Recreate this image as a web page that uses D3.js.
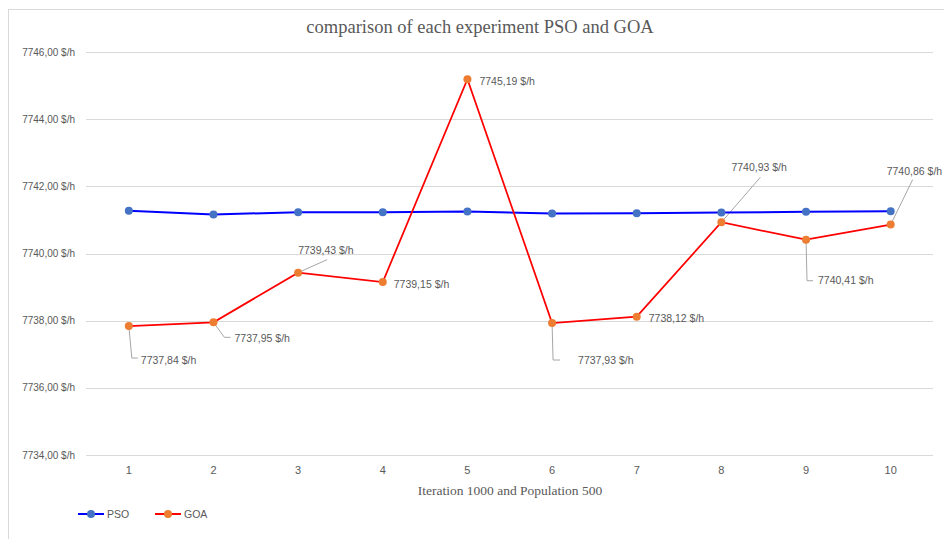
<!DOCTYPE html>
<html>
<head>
<meta charset="utf-8">
<script src="https://cdn.jsdelivr.net/npm/d3@7"></script>
<style>
  body { margin: 0; background: #fff; }
  text { font-family: "Liberation Sans", Arial, sans-serif; }
</style>
</head>
<body>
<div id="chart"></div>
<script>
const experiments = [1, 2, 3, 4, 5, 6, 7, 8, 9, 10];
const psoValues = [7741.27, 7741.16, 7741.23, 7741.23, 7741.25, 7741.19, 7741.20, 7741.22, 7741.24, 7741.26];
const goaValues = [7737.84, 7737.95, 7739.43, 7739.15, 7745.19, 7737.93, 7738.12, 7740.93, 7740.41, 7740.86];
const yTicks = [7734, 7736, 7738, 7740, 7742, 7744, 7746];

// where each GOA label sits relative to its point, with optional leader line
const labelLayout = [
  { dx: 12, dy: 34, leader: [[3, 32], [9, 32]] },
  { dx: 21, dy: 16, leader: [[11, 15], [17, 15]] },
  { dx: 0, dy: -22, leader: [[29, -13]] },
  { dx: 11, dy: 2 },
  { dx: 12, dy: 2 },
  { dx: 26, dy: 37, leader: [[1, 37], [8, 37]] },
  { dx: 12, dy: 1.5 },
  { dx: 10, dy: -55, leader: [[39, -45]] },
  { dx: 12, dy: 41, leader: [[1, 41], [7, 41]] },
  { dx: -4, dy: -53, leader: [[22, -45]] }
];

const width = 944, height = 539;
const fmt = v => d3.format(".2f")(v).replace(".", ",") + " $/h";

const svg = d3.select('#chart')
  .append('svg')
  .attr('width', width)
  .attr('height', height);

svg.append('rect')
  .attr('x', 8.5).attr('y', 9.5)
  .attr('width', 1000).attr('height', 600)
  .attr('fill', 'white')
  .attr('stroke', '#d9d9d9');

const x = d3.scalePoint()
  .domain(experiments)
  .range([86.5, 933])
  .padding(0.5);

const y = d3.scaleLinear()
  .domain([7734, 7746])
  .range([455, 52]);

// gridlines
svg.append('g')
  .selectAll('line')
  .data(yTicks)
  .join('line')
  .attr('x1', 86).attr('x2', 933)
  .attr('y1', d => Math.round(y(d)) + 0.5)
  .attr('y2', d => Math.round(y(d)) + 0.5)
  .attr('stroke', '#d9d9d9')
  .attr('stroke-width', 1);

// y labels
svg.append('g')
  .selectAll('text')
  .data(yTicks)
  .join('text')
  .text(d => fmt(d))
  .attr('x', 75)
  .attr('y', d => y(d))
  .attr('dy', '0.35em')
  .attr('text-anchor', 'end')
  .attr('font-size', '10px')
  .attr('fill', '#595959');

// x axis labels
svg.append('g')
  .selectAll('text')
  .data(experiments)
  .join('text')
  .text(d => d)
  .attr('x', d => x(d))
  .attr('y', 474)
  .attr('text-anchor', 'middle')
  .attr('font-size', '11px')
  .attr('fill', '#595959');

svg.append('text')
  .text('comparison of each experiment PSO and GOA')
  .attr('x', 480)
  .attr('y', 33)
  .attr('text-anchor', 'middle')
  .style('font-family', '"Liberation Serif", "Times New Roman", serif')
  .attr('font-size', '18.5px')
  .attr('fill', '#595959');

svg.append('text')
  .text('Iteration 1000 and Population 500')
  .attr('x', 510)
  .attr('y', 495)
  .attr('text-anchor', 'middle')
  .style('font-family', '"Liberation Serif", "Times New Roman", serif')
  .attr('font-size', '13.5px')
  .attr('fill', '#595959');

const line = d3.line()
  .x((d, i) => x(experiments[i]))
  .y(d => y(d));

// GOA label leaders (drawn under the markers)
const leaders = svg.append('g');
goaValues.forEach((v, i) => {
  const l = labelLayout[i];
  if (!l.leader) return;
  const px = x(experiments[i]), py = y(v);
  const pts = [[px, py]].concat(l.leader.map(p => [px + p[0], py + p[1]]));
  leaders.append('path')
    .attr('d', d3.line()(pts))
    .attr('fill', 'none')
    .attr('stroke', '#a6a6a6')
    .attr('stroke-width', 1);
});

svg.append('path')
  .datum(psoValues)
  .attr('d', line)
  .attr('fill', 'none')
  .attr('stroke', '#0000ff')
  .attr('stroke-width', 2);

svg.append('path')
  .datum(goaValues)
  .attr('d', line)
  .attr('fill', 'none')
  .attr('stroke', '#ff0000')
  .attr('stroke-width', 1.75);

svg.append('g')
  .selectAll('circle')
  .data(psoValues)
  .join('circle')
  .attr('cx', (d, i) => x(experiments[i]))
  .attr('cy', d => y(d))
  .attr('r', 4)
  .attr('fill', '#4472c4');

svg.append('g')
  .selectAll('circle')
  .data(goaValues)
  .join('circle')
  .attr('cx', (d, i) => x(experiments[i]))
  .attr('cy', d => y(d))
  .attr('r', 4)
  .attr('fill', '#ed7d31');

// GOA data labels
svg.append('g')
  .selectAll('text')
  .data(goaValues)
  .join('text')
  .text(d => fmt(d))
  .attr('x', (d, i) => x(experiments[i]) + labelLayout[i].dx)
  .attr('y', (d, i) => y(d) + labelLayout[i].dy)
  .attr('dy', '0.35em')
  .attr('font-size', '10.5px')
  .attr('fill', '#595959');

// legend
const legendItems = [
  { name: 'PSO', line: '#0000ff', dot: '#4472c4', x: 78 },
  { name: 'GOA', line: '#ff0000', dot: '#ed7d31', x: 155 }
];
const legend = svg.append('g')
  .selectAll('g')
  .data(legendItems)
  .join('g')
  .attr('transform', d => `translate(${d.x},514)`);
legend.append('line')
  .attr('x1', 0).attr('x2', 26)
  .attr('stroke', d => d.line)
  .attr('stroke-width', 2);
legend.append('circle')
  .attr('cx', 13).attr('r', 4)
  .attr('fill', d => d.dot);
legend.append('text')
  .text(d => d.name)
  .attr('x', 29)
  .attr('dy', '0.35em')
  .attr('font-size', '10.5px')
  .attr('fill', '#595959');
</script>
</body>
</html>
